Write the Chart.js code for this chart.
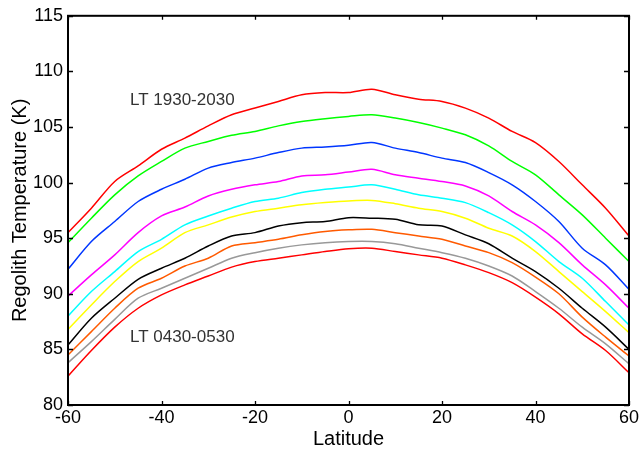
<!DOCTYPE html>
<html>
<head>
<meta charset="utf-8">
<script src="https://cdn.jsdelivr.net/npm/chart.js@4.4.1/dist/chart.umd.min.js"></script>
<style>
  html, body { margin: 0; padding: 0; background: #fff; }
  #wrap { width: 644px; height: 451px; position: relative; }
</style>
</head>
<body>
<div id="wrap"><canvas id="chart"></canvas></div>
<script>
"use strict";

/* ---- Data (K, every 5 deg latitude) ---- */
const latitudes = [-60, -55, -50, -45, -40, -35, -30, -25, -20, -15, -10, -5, 0,
                   5, 10, 15, 20, 25, 30, 35, 40, 45, 50, 55, 60];

const lt1930 = [95.5, 97.7, 100.1, 101.5, 103.0, 104.0, 105.1, 106.1, 106.7, 107.3, 107.9, 108.1, 108.1,
                108.4, 107.9, 107.5, 107.3, 106.7, 105.8, 104.6, 103.6, 101.9, 99.8, 97.7, 95.2];
const ltGreen = [94.6, 96.8, 98.9, 100.6, 101.9, 103.1, 103.7, 104.25, 104.6, 105.1, 105.5, 105.75, 105.95,
                 106.1, 105.8, 105.4, 104.9, 104.3, 103.3, 101.9, 100.7, 98.9, 97.1, 95.0, 92.9];
const ltBlue = [92.2, 94.7, 96.5, 98.3, 99.4, 100.3, 101.3, 101.8, 102.2, 102.7, 103.1, 103.2, 103.35,
                103.6, 103.1, 102.7, 102.2, 101.8, 100.9, 99.8, 98.3, 96.5, 94.1, 92.6, 90.4];
const ltMagenta = [89.8, 91.7, 93.5, 95.5, 97.0, 97.8, 98.8, 99.4, 99.8, 100.1, 100.6, 100.7, 100.95,
                   101.2, 100.7, 100.4, 100.1, 99.7, 98.8, 97.4, 96.2, 94.6, 92.6, 90.8, 88.7];
const ltCyan = [88.0, 90.2, 92.0, 93.8, 94.9, 96.2, 97.0, 97.7, 98.3, 98.6, 99.1, 99.4, 99.6,
                99.8, 99.4, 98.9, 98.6, 98.2, 97.3, 96.2, 94.7, 92.9, 91.4, 89.3, 87.2];
const ltYellow = [86.8, 89.0, 91.1, 92.9, 94.1, 95.5, 96.2, 96.9, 97.4, 97.7, 98.0, 98.2, 98.35,
                  98.4, 98.1, 97.7, 97.4, 96.8, 95.9, 95.2, 93.8, 92.0, 90.2, 88.4, 86.5];
const ltBlack = [85.4, 87.8, 89.6, 91.3, 92.3, 93.2, 94.3, 95.2, 95.5, 96.1, 96.4, 96.5, 96.85,
                 96.8, 96.7, 96.2, 96.1, 95.3, 94.5, 93.2, 92.0, 90.5, 88.7, 87.0, 85.0];
const ltOrange = [84.5, 86.6, 88.7, 90.5, 91.4, 92.5, 93.2, 94.3, 94.6, 94.9, 95.3, 95.6, 95.75,
                  95.8, 95.5, 95.2, 94.9, 94.3, 93.7, 92.8, 91.5, 90.0, 87.9, 86.1, 84.4];
const ltGray = [83.8, 85.7, 87.7, 89.6, 90.5, 91.4, 92.3, 93.2, 93.7, 94.1, 94.4, 94.6, 94.7,
                94.7, 94.5, 94.1, 93.7, 93.2, 92.5, 91.6, 90.2, 88.7, 87.0, 85.5, 83.7];
const lt0430 = [82.6, 84.9, 87.0, 88.7, 89.9, 90.8, 91.6, 92.4, 92.9, 93.2, 93.5, 93.8, 94.05,
                94.1, 93.8, 93.5, 93.2, 92.6, 91.9, 91.0, 89.7, 88.2, 86.4, 84.9, 82.9];

const seriesValues = [lt1930, ltGreen, ltBlue, ltMagenta, ltCyan, ltYellow, ltBlack, ltOrange, ltGray, lt0430];
const seriesColors = ["#ff0000", "#00ff00", "#0036ff", "#ff00ff", "#00ffff",
                      "#ffff00", "#000000", "#ff5a00", "#999999", "#ff0000"];

const xTicks = [-60, -40, -20, 0, 20, 40, 60];
const yTicks = [80, 85, 90, 95, 100, 105, 110, 115];

const FONT = "'Liberation Sans', Arial, Helvetica, sans-serif";

/* ---- Box frame, inward ticks and the two LT notes ---- */
const framePlugin = {
  id: "frame",
  afterDatasetsDraw(chart) {
    const { ctx, chartArea: a, scales: { x, y } } = chart;
    ctx.save();
    ctx.strokeStyle = "#000";
    ctx.lineWidth = 1.3;
    ctx.beginPath();
    xTicks.forEach(v => {
      const px = Math.round(x.getPixelForValue(v)) + 0.5;
      ctx.moveTo(px, a.bottom); ctx.lineTo(px, a.bottom - 4);
      ctx.moveTo(px, a.top);    ctx.lineTo(px, a.top + 4);
    });
    yTicks.forEach(v => {
      const py = Math.round(y.getPixelForValue(v)) + 0.5;
      ctx.moveTo(a.left, py);  ctx.lineTo(a.left + 5, py);
      ctx.moveTo(a.right, py); ctx.lineTo(a.right - 5, py);
    });
    ctx.stroke();

    ctx.lineWidth = 2;
    ctx.strokeRect(a.left, a.top, a.right - a.left, a.bottom - a.top);

    ctx.fillStyle = "#333";
    ctx.font = "17px " + FONT;
    ctx.textBaseline = "alphabetic";
    ctx.fillText("LT 1930-2030", 130, 105);
    ctx.fillText("LT 0430-0530", 130, 342);
    ctx.restore();
  },
};

new Chart(document.getElementById("chart"), {
  type: "line",
  data: {
    datasets: seriesValues.map((vals, i) => ({
      data: vals.map((v, j) => ({ x: latitudes[j], y: v })),
      borderColor: seriesColors[i],
      borderWidth: 1.5,
      pointRadius: 0,
      tension: 0.3,
      fill: false,
    })),
  },
  options: {
    responsive: true,
    maintainAspectRatio: false,
    animation: false,
    layout: { padding: { top: 15, right: 15, left: 0, bottom: 0 } },
    plugins: { legend: { display: false }, tooltip: { enabled: false } },
    scales: {
      x: {
        type: "linear",
        min: -60, max: 60,
        afterBuildTicks: s => { s.ticks = xTicks.map(v => ({ value: v })); },
        afterFit: s => { s.height = 46; },
        grid: { display: false, drawTicks: false },
        border: { display: false },
        ticks: { color: "#000", font: { family: FONT, size: 18 }, padding: 2, maxRotation: 0 },
        title: { display: true, text: "Latitude", color: "#000", font: { family: FONT, size: 20 }, padding: { top: 0, bottom: 0 } },
      },
      y: {
        min: 80, max: 115,
        afterBuildTicks: s => { s.ticks = yTicks.map(v => ({ value: v })); },
        afterFit: s => { s.width = 68; },
        grid: { display: false, drawTicks: false },
        border: { display: false },
        ticks: { color: "#000", font: { family: FONT, size: 18 }, padding: 5 },
        title: { display: true, text: "Regolith Temperature (K)", color: "#000", font: { family: FONT, size: 20 }, padding: { top: 8, bottom: 0 } },
      },
    },
  },
  plugins: [framePlugin],
});
</script>
</body>
</html>
